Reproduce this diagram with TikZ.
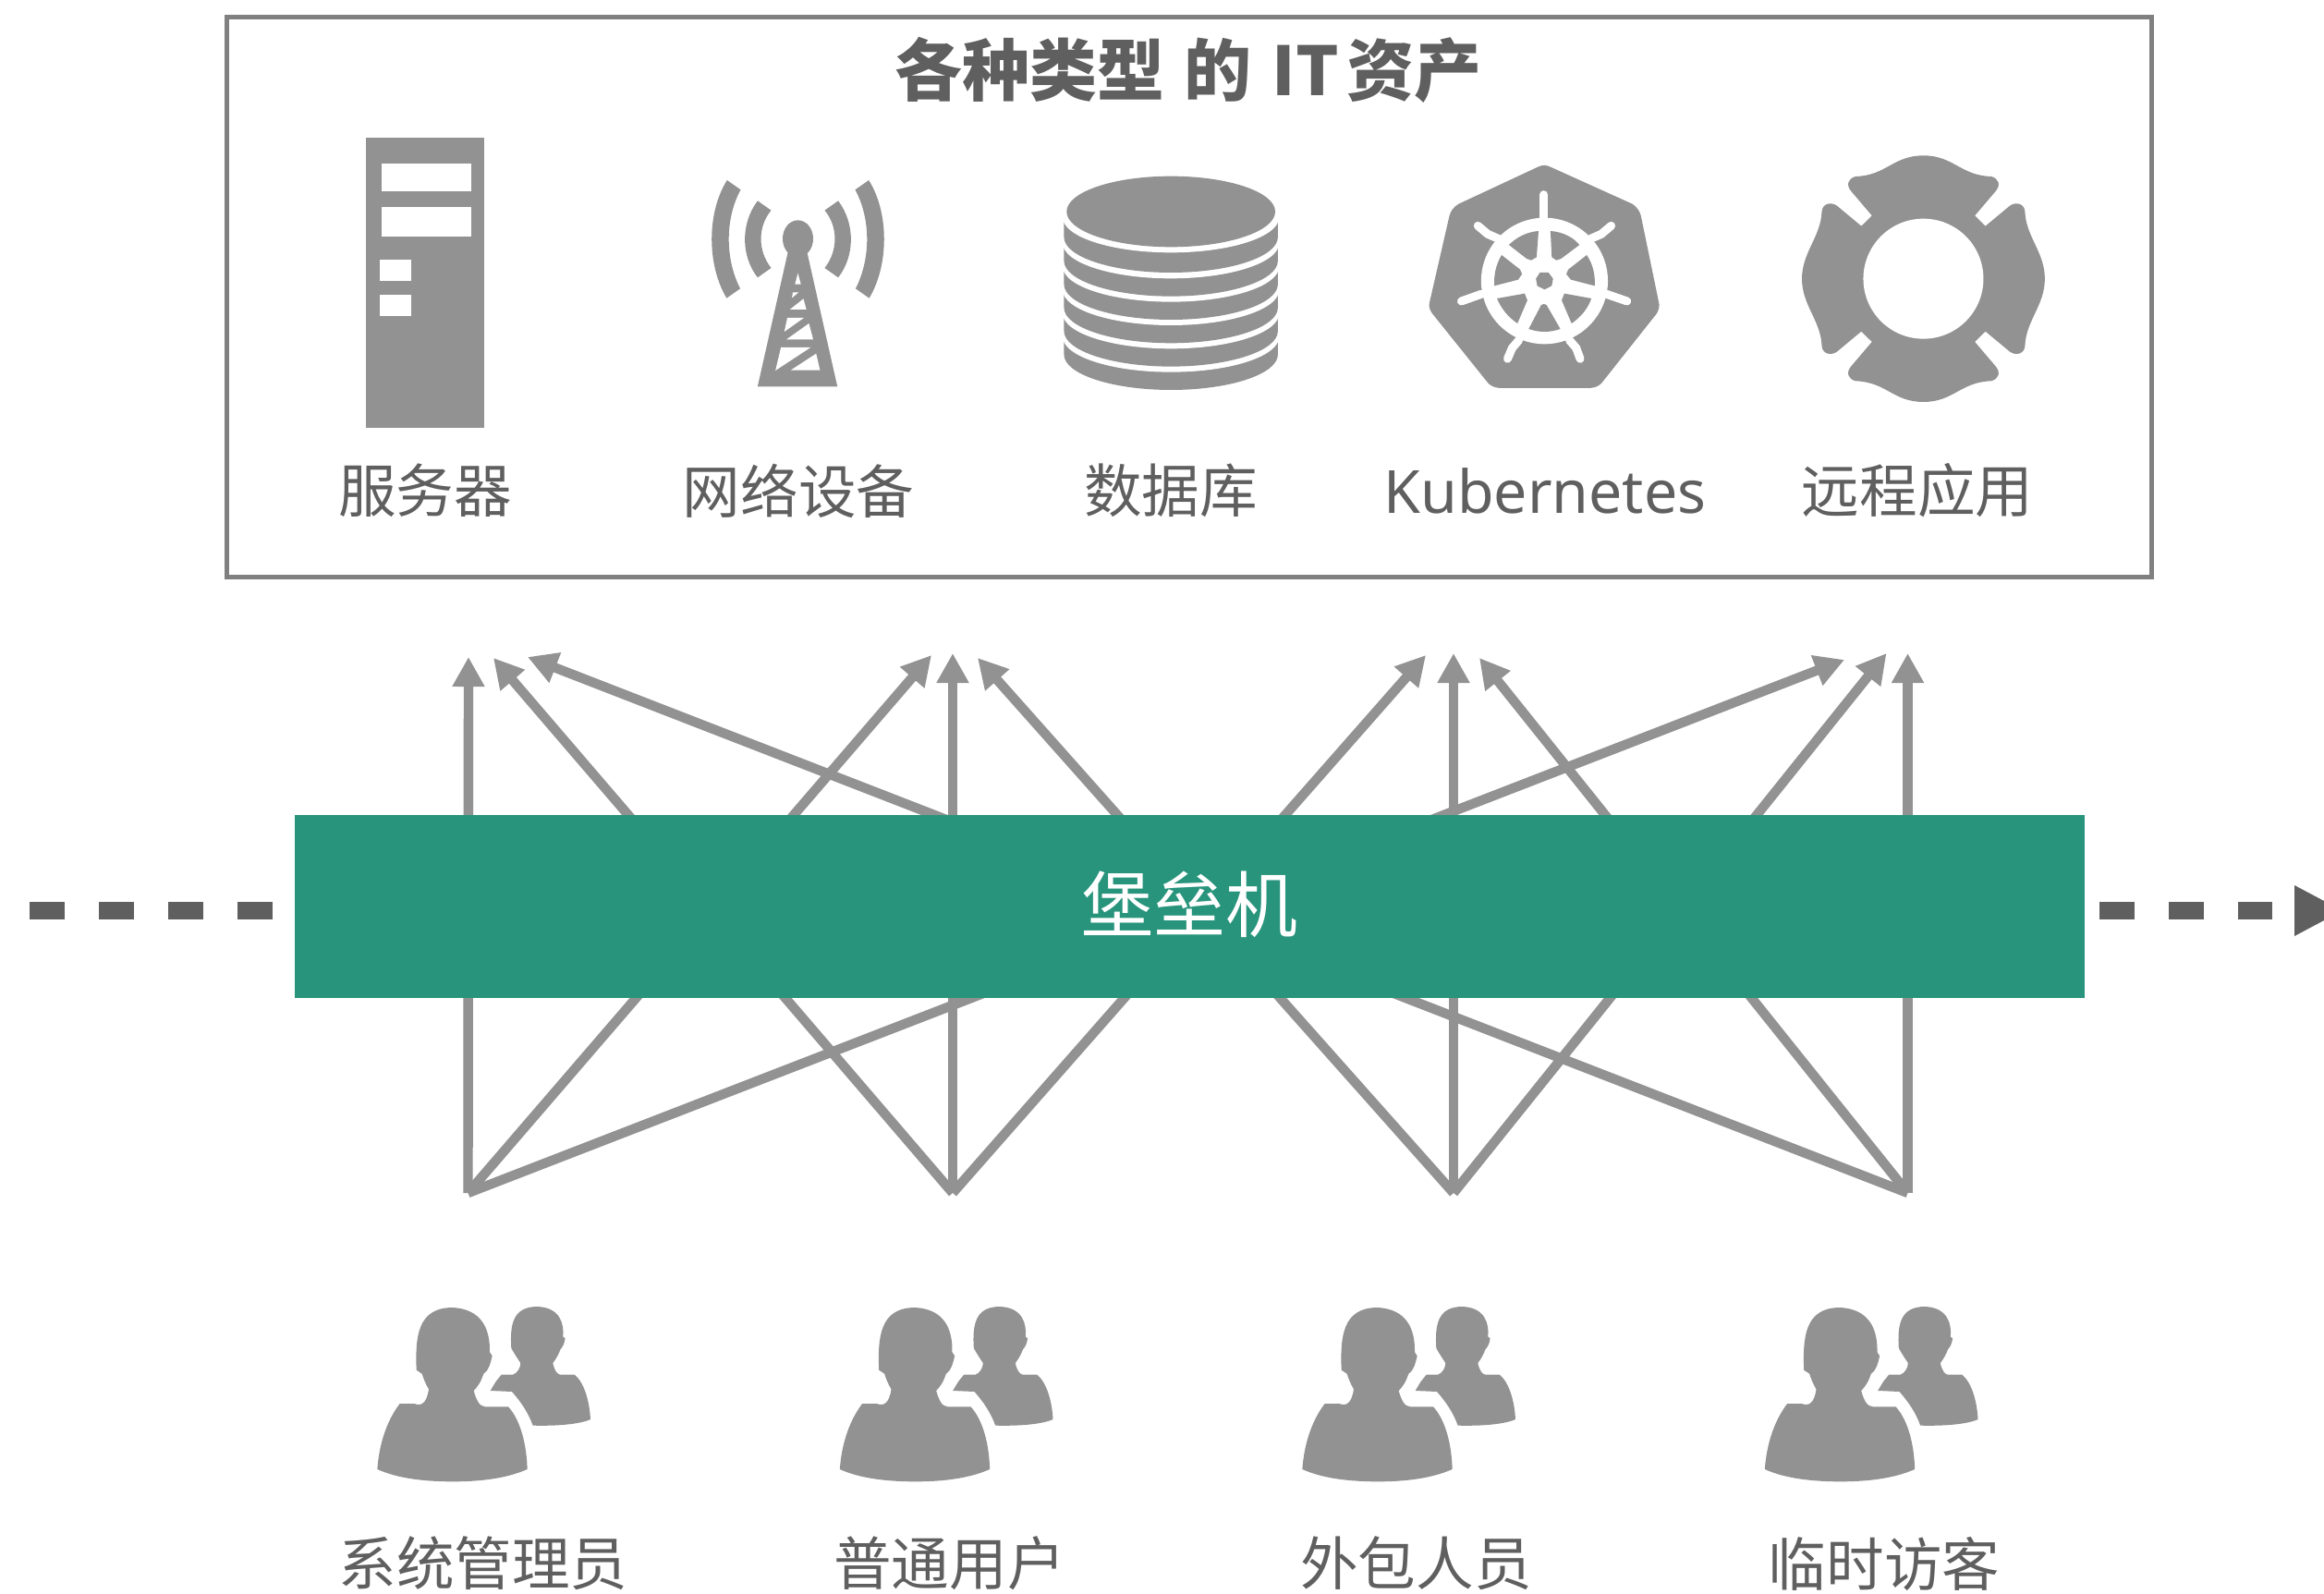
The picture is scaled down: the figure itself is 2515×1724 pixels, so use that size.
\documentclass[tikz,border=0pt]{standalone}
\usepackage{fontspec}
\setmainfont{Noto Sans}
\newfontfamily\cjkf{Noto Sans CJK SC}
\usetikzlibrary{arrows.meta}
\definecolor{icong}{HTML}{929292}
\definecolor{textg}{HTML}{5F5F5F}
\definecolor{barg}{HTML}{28947C}
\tikzset{
  flow/.style={draw=icong,line width=5.2pt,-{Triangle[length=16pt,width=16.5pt]}},
  lab/.style={text=textg,inner sep=0pt,font=\cjkf\fontsize{31.3}{32}\selectfont},
  icon/.style={fill=icong,draw=none},
  hole/.style={fill=white,draw=none},
  dashline/.style={draw=textg,line width=9.5pt,dash pattern=on 19pt off 18.5pt},
  handle/.style={draw=white,line width=4.5pt,line cap=round}
}
\newcommand{\personicon}[1]{%
\begin{scope}[shift={(#1,1380)},scale=0.3333]
\fill[icon] (85,630) .. controls (90,560) and (110,480) .. (158,417) -- (205,417)
 .. controls (225,425) and (245,420) .. (252,370)
 .. controls (240,350) and (235,335) .. (230,320) -- (212,308)
 .. controls (208,200) and (215,105) .. (330,105)
 .. controls (420,110) and (452,170) .. (450,250) -- (458,262)
 .. controls (452,285) and (450,305) .. (430,320)
 .. controls (420,350) and (410,362) .. (398,375)
 .. controls (405,400) and (415,427) .. (435,427) -- (510,427)
 .. controls (550,470) and (570,550) .. (572,630)
 .. controls (500,662) and (410,670) .. (330,670)
 .. controls (240,670) and (150,660) .. (85,630) -- cycle;
\fill[icon] (452,375) -- (470,345) -- (488,323) -- (525,323)
 .. controls (540,318) and (550,300) .. (550,285)
 .. controls (540,270) and (530,255) .. (520,237)
 .. controls (515,160) and (525,102) .. (605,102)
 .. controls (680,105) and (692,160) .. (688,200) -- (695,205)
 .. controls (692,225) and (685,235) .. (680,240)
 .. controls (672,260) and (665,272) .. (655,285)
 .. controls (660,310) and (670,323) .. (680,323) -- (725,323)
 .. controls (760,350) and (775,420) .. (777,468)
 .. controls (740,485) and (660,490) .. (590,488)
 .. controls (575,445) and (550,410) .. (522,378) -- cycle;
\end{scope}}
\begin{document}
\begin{tikzpicture}[x=0.5pt,y=-0.5pt]
\useasboundingbox (0,0) rectangle (2515,1724);
% frame
\node[draw=black!50,line width=2.5pt,minimum width=1041.5pt,minimum height=303pt,inner sep=0pt] (frame) at (1286.5,321) {};
\node[text=textg,inner sep=0pt,font=\cjkf\bfseries\fontsize{36.5}{37}\selectfont] (title) at (1286,76) {各种类型\hspace*{10.5pt}的\hspace*{11pt}IT\hspace*{4.2pt}资产};
% server
\fill[icon] (396,149) rectangle (524,463);
\fill[hole] (413,177) rectangle (510,207);
\fill[hole] (413,224) rectangle (510,256);
\fill[hole] (411,281) rectangle (445,304);
\fill[hole] (411,319) rectangle (445,342);
% tower
\begin{scope}[shift={(340,130)},xscale=0.4592,yscale=0.3333]
\fill[icon] (973,195) -- (1005,226) .. controls (968,320) and (968,450) .. (1004,547) -- (972,578) .. controls (925,470) and (925,300) .. cycle;
\fill[icon] (1045,262) -- (1077,293) .. controls (1045,345) and (1045,425) .. (1077,480) -- (1045,511) .. controls (1005,440) and (1005,335) .. cycle;
\fill[icon] (1307,195) -- (1275,226) .. controls (1312,320) and (1312,450) .. (1276,547) -- (1308,578) .. controls (1355,470) and (1355,300) .. cycle;
\fill[icon] (1235,262) -- (1203,293) .. controls (1235,345) and (1235,425) .. (1203,480) -- (1235,511) .. controls (1275,440) and (1275,335) .. cycle;
\fill[icon] (1140,385) ellipse [x radius=36,y radius=60];
\fill[icon] (1117,425) -- (1045,865) -- (1233,865) -- (1161,425) -- cycle;
\fill[hole] (1140,497) -- (1147,533) -- (1133,533) -- cycle;
\fill[hole] (1128,559) -- (1142,559) -- (1126,577) -- cycle;
\fill[hole] (1153,580) -- (1160,615) -- (1121,615) -- cycle;
\fill[hole] (1115,642) -- (1154,642) -- (1108,687) -- cycle;
\fill[hole] (1166,660) -- (1176,712) -- (1113,712) -- cycle;
\fill[hole] (1100,738) -- (1170,738) -- (1087,813) -- cycle;
\fill[hole] (1183,758) -- (1192,812) -- (1123,812) -- cycle;
\end{scope}
% database, kubernetes, app
\begin{scope}[shift={(1120,150)},xscale=0.7143,yscale=0.3333]
\foreach \b/\w in {816/758,740/682,664/606,588/530,512/454,435/370}{
  \pgfmathsetmacro\c{\b-115}
  \pgfmathsetmacro\wc{\w-115}
  \fill[icon] (44,\wc) -- (44,\c) arc[start angle=180,end angle=360,x radius=162,y radius=-115] -- (368,\wc) -- cycle;
  \fill[hole] (206,\wc) ellipse [x radius=164,y radius=115];
}
\fill[icon] (206,237) ellipse [x radius=158,y radius=115];
% kubernetes
\fill[icon] (762,92) .. controls (768,85) and (775,85) .. (781,92) -- (905,212)
 .. controls (912,222) and (916,235) .. (918,250) -- (945,530)
 .. controls (947,545) and (945,555) .. (942,568) -- (858,795)
 .. controls (853,805) and (847,810) .. (838,810) -- (708,810)
 .. controls (698,810) and (692,805) .. (687,795) -- (602,568)
 .. controls (598,555) and (596,545) .. (598,530) -- (628,250)
 .. controls (630,235) and (634,222) .. (642,212) -- cycle;
\fill[hole] (772,462) ellipse [x radius=96,y radius=205];
\draw[handle] (771,260) -- (771,182);
\draw[handle] (842,325) -- (858,310) -- (873,283);
\draw[handle] (702,325) -- (686,310) -- (671,283);
\draw[handle] (866,505) -- (897,528);
\draw[handle] (676,505) -- (646,528);
\draw[handle] (810,655) -- (820,680) -- (826,715);
\draw[handle] (733,655) -- (723,680) -- (716,715);
\fill[icon] (763,300) -- (760,385) -- (752,395) -- (745,390) -- (718,345) .. controls (730,320) and (745,303) .. cycle;
\fill[icon] (781,300) .. controls (800,303) and (815,320) .. (825,345) -- (797,390) -- (790,395) -- (783,385) -- cycle;
\fill[icon] (836,378) .. controls (846,410) and (849,445) .. (848,478) -- (812,458) -- (805,440) -- (808,425) -- cycle;
\fill[icon] (843,519) .. controls (838,550) and (828,578) .. (813,600) -- (798,525) -- (802,503) -- cycle;
\fill[icon] (771,537) -- (775,540) -- (796,618) .. controls (780,630) and (764,630) .. (748,618) -- (767,540) -- cycle;
\fill[icon] (700,519) -- (742,503) -- (746,525) -- (731,600) .. controls (716,578) and (706,550) .. cycle;
\fill[icon] (707,378) -- (735,425) -- (738,440) -- (732,458) -- (696,478) .. controls (695,445) and (698,410) .. cycle;
\fill[icon] (765,435) -- (778,435) -- (785,455) -- (783,478) -- (772,490) -- (761,478) -- (759,455) -- cycle;
% app
\fill[icon] (1346,55) .. controls (1300,55) and (1290,120) .. (1243,123)
 .. controls (1232,130) and (1228,150) .. (1237,172)
 -- (1268,250) -- (1252,284) -- (1215,218)
 .. controls (1205,203) and (1192,212) .. (1192,240)
 .. controls (1190,320) and (1162,370) .. (1162,455)
 .. controls (1162,540) and (1190,590) .. (1192,670)
 .. controls (1192,698) and (1205,707) .. (1215,692)
 -- (1252,626) -- (1268,660) -- (1237,738)
 .. controls (1228,760) and (1232,780) .. (1243,787)
 .. controls (1290,790) and (1300,855) .. (1346,855)
 .. controls (1392,855) and (1402,790) .. (1449,787)
 .. controls (1460,780) and (1464,760) .. (1455,738)
 -- (1424,660) -- (1440,626) -- (1477,692)
 .. controls (1487,707) and (1500,698) .. (1500,670)
 .. controls (1502,590) and (1530,540) .. (1530,455)
 .. controls (1530,370) and (1502,320) .. (1500,240)
 .. controls (1500,212) and (1487,203) .. (1477,218)
 -- (1440,284) -- (1424,250) -- (1455,172)
 .. controls (1464,150) and (1460,130) .. (1449,123)
 .. controls (1402,120) and (1392,55) .. (1346,55) -- cycle;
\fill[hole] (1346,455) ellipse [x radius=91,y radius=195];
\end{scope}
% asset labels
\node[lab] (l1) at (460,531) {服务器};
\node[lab] (l2) at (864,531) {网络设备};
\node[lab] (l3) at (1267,531) {数据库};
\node[text=textg,inner sep=0pt,font=\fontsize{32.2}{33}\selectfont] (l4) at (1672,531) {Kubernetes};
\node[lab] (l5) at (2075,531) {远程应用};
% sources and tips
\coordinate (s1) at (506.5,1291);
\coordinate (s2) at (1031,1291);
\coordinate (s3) at (1573,1291);
\coordinate (s4) at (2064.5,1291);
\coordinate (t1a) at (507,711);
\coordinate (t1b) at (534,712);
\coordinate (t1c) at (571,711);
\coordinate (t2a) at (1008,709);
\coordinate (t2b) at (1031,707);
\coordinate (t2c) at (1058,712);
\coordinate (t3a) at (1543,709);
\coordinate (t3b) at (1573,707);
\coordinate (t3c) at (1601,712);
\coordinate (t4a) at (1996,714);
\coordinate (t4b) at (2041.5,707);
\coordinate (t4c) at (2064.5,707);
\draw[flow] (s1) -- (t1a);
\draw[flow] (s1) -- (t2a);
\draw[flow] (s1) -- (t4a);
\draw[flow] (s2) -- (t1b);
\draw[flow] (s2) -- (t2b);
\draw[flow] (s2) -- (t3a);
\draw[flow] (s3) -- (t2c);
\draw[flow] (s3) -- (t3b);
\draw[flow] (s3) -- (t4b);
\draw[flow] (s4) -- (t1c);
\draw[flow] (s4) -- (t3c);
\draw[flow] (s4) -- (t4c);
% bar
\node[fill=barg,minimum width=968.5pt,minimum height=99pt,inner sep=0pt] (bar) at (1287.5,981) {};
\node[text=white,inner sep=0pt,font=\cjkf\fontsize{39}{39}\selectfont] (bartext) at (1287,979) {堡垒机};
% dashed traffic line
\coordinate (d1) at (32,985.5);
\coordinate (d2) at (295,985.5);
\coordinate (d3) at (2272,985.5);
\coordinate (d4) at (2459,985.5);
\draw[dashline] (d1) -- (d2);
\draw[dashline] (d3) -- (d4);
\fill[textg] (2483,958) -- (2515,975) -- (2515,996) -- (2483,1013) -- cycle;
% people
\personicon{380}
\personicon{880.5}
\personicon{1381}
\personicon{1881.5}
\node[lab] (p1) at (523,1692) {系统管理员};
\node[lab] (p2) at (1027.5,1692) {普通用户};
\node[lab] (p3) at (1532.5,1692) {外包人员};
\node[lab] (p4) at (2039,1692) {临时访客};
\end{tikzpicture}
\end{document}
